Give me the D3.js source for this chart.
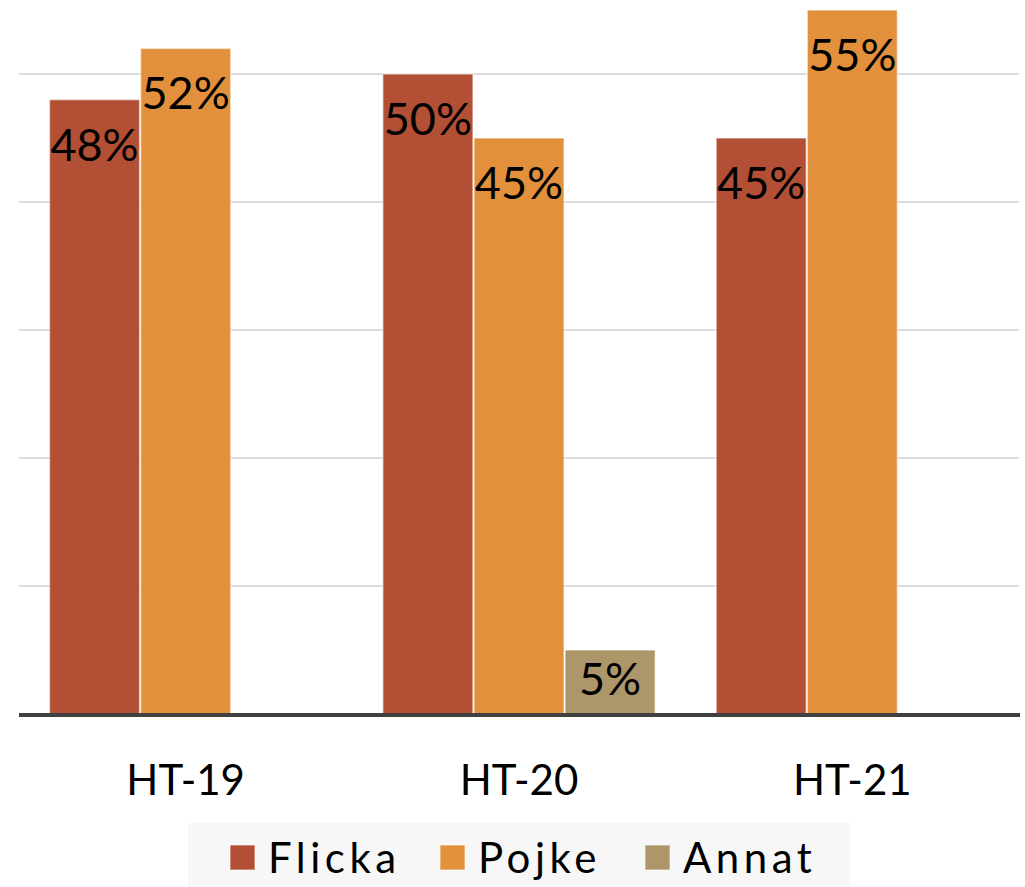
<!DOCTYPE html>
<html><head><meta charset="utf-8">
<script src="https://cdn.jsdelivr.net/npm/d3@7"></script>
<style>html,body{margin:0;padding:0;background:#fff;}svg{display:block;}</style>
</head><body>
<svg id="c" width="1025" height="887"></svg>
<script>
const categories = ["HT-19", "HT-20", "HT-21"];
const seriesNames = ["Flicka", "Pojke", "Annat"];
const flicka = [48, 50, 45];
const pojke = [52, 45, 55];
const annat = [null, 5, null];
const gridTicks = [10, 20, 30, 40, 50];
const colors = ["#B24F34", "#E2903B", "#AC966A"];

const seriesValues = [flicka, pojke, annat];
const svg = d3.select("#c");
const font = "Lato, 'Open Sans', sans-serif";

const x = d3.scaleBand().domain(categories).range([19, 1019]).paddingInner(0.18).paddingOuter(0.09);
const xs = d3.scaleBand().domain(seriesNames).range([0, x.bandwidth()]).padding(0);
const y = d3.scaleLinear().domain([0, 60]).range([714, -54]);

// gridlines
svg.append("g").selectAll("line").data(gridTicks).join("line")
  .attr("x1", 19).attr("x2", 1019)
  .attr("y1", d => y(d)).attr("y2", d => y(d))
  .attr("stroke", "#d0d0d0").attr("stroke-width", 1.5);

// bars
const data = [];
categories.forEach((c, i) => seriesNames.forEach((s, j) => {
  const v = seriesValues[j][i];
  if (v != null) data.push({c, s, v, j});
}));

svg.append("g").selectAll("rect").data(data).join("rect")
  .attr("x", d => x(d.c) + xs(d.s) + 0.5)
  .attr("width", xs.bandwidth() - 1)
  .attr("y", d => y(d.v))
  .attr("height", d => y(0) - y(d.v))
  .attr("fill", d => colors[d.j])
  .attr("stroke", "rgba(255,255,255,0.5)").attr("stroke-width", 1.5);

// labels
svg.append("g").selectAll("text").data(data).join("text")
  .attr("x", d => x(d.c) + xs(d.s) + xs.bandwidth() / 2)
  .attr("y", d => Math.min(y(d.v) + 61, y(0) - 19))
  .attr("text-anchor", "middle")
  .attr("font-family", font).attr("font-size", 45)
  .attr("fill", "#000")
  .text(d => d.v + "%");

// baseline
svg.append("line").attr("x1", 19).attr("x2", 1020).attr("y1", y(0) + 1).attr("y2", y(0) + 1)
  .attr("stroke", "#404040").attr("stroke-width", 4);

// x axis labels
const xAxis = d3.axisBottom(x).tickSize(0).tickPadding(0);
const gx = svg.append("g").attr("transform", `translate(0,${y(0)})`).call(xAxis);
gx.select(".domain").remove();
gx.selectAll("text").attr("font-family", font).attr("font-size", 42).attr("fill", "#000")
  .attr("dy", null).attr("y", 81);

// legend
const lg = svg.append("g");
lg.append("rect").attr("x", 188).attr("y", 823).attr("width", 662).attr("height", 64).attr("fill", "#f7f7f7");
const legX = [230, 440, 645];
seriesNames.forEach((s, j) => {
  lg.append("rect").attr("x", legX[j]).attr("y", 845).attr("width", 25).attr("height", 25)
    .attr("fill", colors[j]).attr("stroke", "rgba(255,255,255,0.45)").attr("stroke-width", 1.5);
  lg.append("text").attr("x", legX[j] + 38).attr("y", 873)
    .attr("font-family", font).attr("font-size", 42).attr("letter-spacing", 4.5)
    .attr("fill", "#000").text(s);
});
</script>
</body></html>
